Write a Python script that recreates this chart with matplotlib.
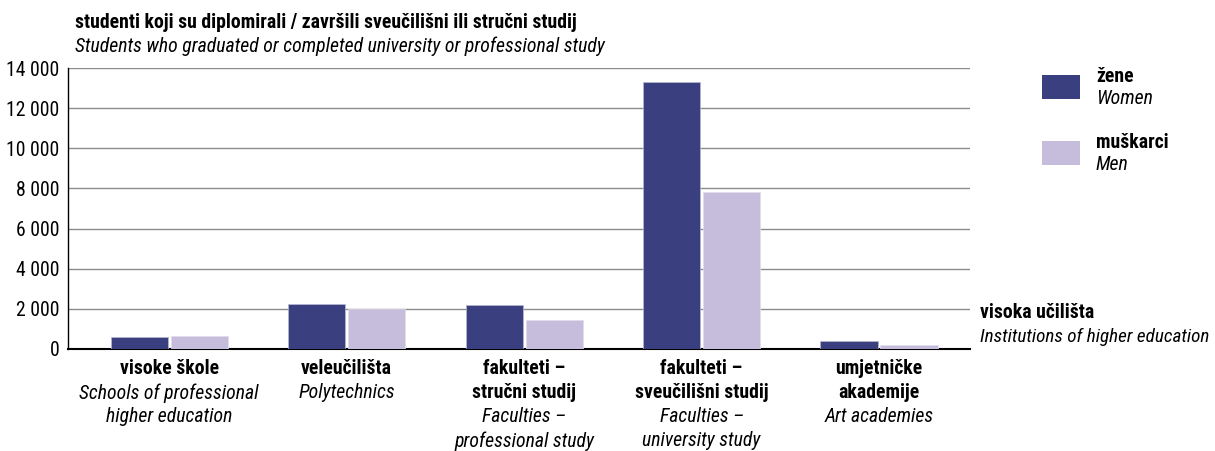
import matplotlib.pyplot as plt
from matplotlib.patches import Rectangle
import numpy as np

plt.rcParams['font.family'] = ['Roboto Condensed', 'Liberation Sans', 'DejaVu Sans']

# categories (Croatian / English)
kategorije_hr = ["visoke škole", "veleučilišta", "fakulteti –\nstručni studij",
                 "fakulteti –\nsveučilišni studij", "umjetničke\nakademije"]
kategorije_en = ["Schools of professional\nhigher education", "Polytechnics",
                 "Faculties –\nprofessional study", "Faculties –\nuniversity study",
                 "Art academies"]

zene = [620, 2240, 2180, 13320, 410]
muskarci = [660, 1990, 1450, 7810, 210]

y_ticks = [0, 2000, 4000, 6000, 8000, 10000, 12000, 14000]
y_tick_labels = ["0", "2 000", "4 000", "6 000", "8 000", "10 000", "12 000", "14 000"]

boja_zene = '#3a3f7f'
boja_muskarci = '#c5bddb'
fs = 14.2

fig = plt.figure(figsize=(12.15, 4.51), dpi=100)
ax = fig.add_axes([0.056, 0.2262, 0.742, 0.6228])

x = np.arange(len(zene))
w = 0.322
ax.bar(x - w / 2 - 0.008, zene, width=w, color=boja_zene, edgecolor='#b8b8d0', linewidth=0.5, zorder=3)
ax.bar(x + w / 2 + 0.008, muskarci, width=w, color=boja_muskarci, edgecolor='#e0dcea', linewidth=0.5, zorder=3)

ax.set_xlim(-0.57, 4.51)
ax.set_ylim(0, 14000)
ax.set_yticks(y_ticks)
ax.set_yticklabels(y_tick_labels, fontsize=fs)
ax.tick_params(axis='y', length=0, pad=6)
ax.set_xticks([])
ax.yaxis.grid(True, color='#8c8c8c', linewidth=1.0, zorder=0)
for s in ['top', 'right']:
    ax.spines[s].set_visible(False)
ax.spines['left'].set_color('black')
ax.spines['left'].set_linewidth(1.0)
ax.spines['bottom'].set_color('black')
ax.spines['bottom'].set_linewidth(1.5)

# category labels below the axis
for i in range(len(x)):
    linije = [(l, 'bold', 'normal') for l in kategorije_hr[i].split('\n')]
    linije += [(l, 'normal', 'italic') for l in kategorije_en[i].split('\n')]
    for j, (txt, wt, st) in enumerate(linije):
        ax.annotate(txt, xy=(i, 0), xycoords=('data', 'axes fraction'),
                    xytext=(0, -7.5 - 17.3 * j), textcoords='offset points',
                    ha='center', va='top', fontsize=fs, fontweight=wt, fontstyle=st)

# title
fig.text(75 / 1215, 1 - 22 / 451, "studenti koji su diplomirali / završili sveučilišni ili stručni studij",
         fontsize=fs, fontweight='bold', va='center', ha='left')
fig.text(75 / 1215, 1 - 46 / 451, "Students who graduated or completed university or professional study",
         fontsize=fs, fontstyle='italic', va='center', ha='left')

# x-axis caption
fig.text(980 / 1215, 1 - 313 / 451, "visoka učilišta", fontsize=fs, fontweight='bold', va='center', ha='left')
fig.text(980 / 1215, 1 - 337 / 451, "Institutions of higher education", fontsize=13.8, fontstyle='italic',
         va='center', ha='left')

# legend
legenda = [(boja_zene, "žene", "Women", 75), (boja_muskarci, "muškarci", "Men", 141)]
for boja, hr, en, top in legenda:
    fig.add_artist(Rectangle((1042 / 1215, 1 - (top + 24) / 451), 38 / 1215, 24 / 451,
                             transform=fig.transFigure, facecolor=boja, edgecolor='none'))
    fig.text(1096 / 1215, 1 - (top + 2) / 451, hr, fontsize=fs, fontweight='bold', va='center', ha='left')
    fig.text(1096 / 1215, 1 - (top + 24) / 451, en, fontsize=fs, fontstyle='italic', va='center', ha='left')

fig.savefig('out.png', dpi=100)
